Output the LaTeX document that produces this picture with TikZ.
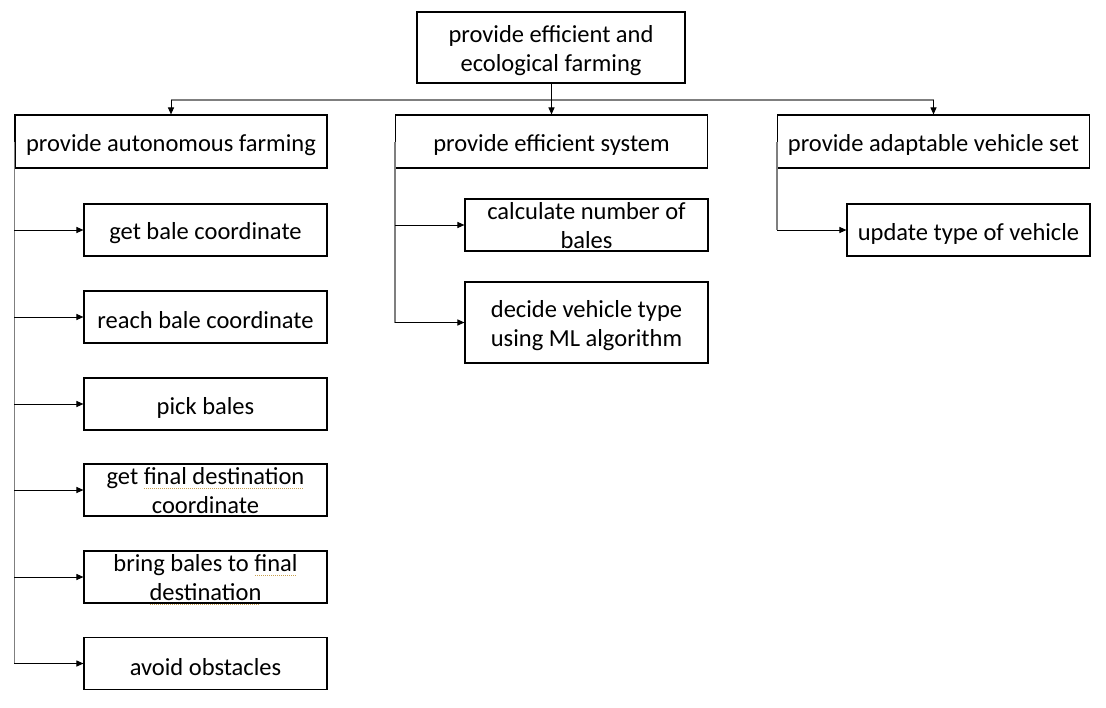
\documentclass[tikz,border=0pt]{standalone}
\usepackage{fontspec}
\setmainfont{Carlito}
\usetikzlibrary{arrows.meta}
\definecolor{ulc}{HTML}{C8A050}
\definecolor{spinec}{HTML}{7F7F7F}
\newsavebox\ulbox
\newcommand\dotul[1]{\leavevmode\sbox\ulbox{#1}\rlap{\usebox\ulbox}\raisebox{-4pt}{\textcolor{ulc}{\leaders\hbox to 2pt{\hss\rule{1pt}{1pt}\hss}\hskip\wd\ulbox}}}
\tikzset{
  box/.style={draw=black, line width=1.1pt, fill=white, align=flush center, inner sep=2pt,
    font=\fontsize{24.5}{29}\selectfont, execute at begin node={\noindent\rule{0pt}{24pt}}},
  lvltwo/.style={box, minimum width=312pt, minimum height=53pt, text width=306pt},
  leaf/.style={box, minimum width=243pt, minimum height=52pt, text width=237pt},
  leaftwo/.style={leaf, inner ysep=-7pt, execute at begin node={\noindent},
    execute at end node={\rule[-6pt]{0pt}{0pt}}},
  arr/.style={draw=black, line width=1pt, -{Triangle[length=7pt,width=6pt]}},
  spine/.style={draw=spinec, line width=1.6pt},
  plain/.style={draw=black, line width=1pt}
}
\begin{document}
\begin{tikzpicture}[x=1pt,y=-1pt]
\useasboundingbox (0,0) rectangle (1106,707);
\node[box, minimum width=268pt, minimum height=71pt, text width=262pt, execute at begin node={\noindent\rule{0pt}{21pt}}] (top) at (551,47.5) {provide efficient and\\ecological farming};
\node[lvltwo] (A) at (171,141.5) {provide autonomous farming};
\node[lvltwo] (B) at (551.5,141.5) {provide efficient system};
\node[lvltwo] (C) at (933.5,141.5) {provide adaptable vehicle set};
\coordinate (bus) at (551,100);
% bus
\draw[spine] (A.north |- bus) -- (C.north |- bus);
\draw[plain] (top.south) -- (bus);
\draw[arr] (A.north |- bus) -- (A.north);
\draw[arr] (B.north |- bus) -- (B.north);
\draw[arr] (C.north |- bus) -- (C.north);
% A children
\node[leaf] (a1) at (205.5,230) {get bale coordinate};
\node[leaf] (a2) at (205.5,317) {reach bale coordinate};
\node[leaf] (a3) at (205.5,404) {pick bales};
\node[leaftwo] (a4) at (205.5,490) {get \dotul{final destination}\\coordinate};
\node[leaftwo] (a5) at (205.5,577) {bring bales to \dotul{final}\\\dotul{destination}};
\node[leaf] (a6) at (205.5,663.5) {avoid obstacles};
% B children
\node[leaftwo] (b1) at (586.5,225) {calculate number of\\bales};
\node[leaftwo, minimum height=81pt] (b2) at (586.5,322.5) {decide vehicle type\\using ML algorithm};
% C children
\node[leaf] (c1) at (968.5,230) {update type of vehicle};
% spines
\draw[spine] (A.west) -- (A.west |- a6);
\draw[spine] (B.west) -- (B.west |- b2);
\draw[spine] (C.west) -- (C.west |- c1);
\foreach \n in {a1,a2,a3,a4,a5,a6}{\draw[arr] (A.west |- \n) -- (\n.west);}
\foreach \n in {b1,b2}{\draw[arr] (B.west |- \n) -- (\n.west);}
\draw[arr] (C.west |- c1) -- (c1.west);
\end{tikzpicture}
\end{document}
